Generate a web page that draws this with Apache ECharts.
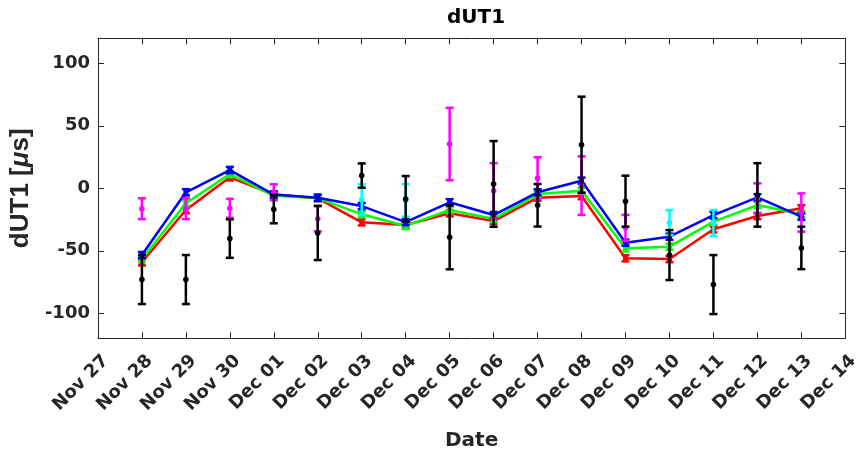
<!DOCTYPE html>
<html>
<head>
<meta charset="utf-8">
<script src="https://cdn.jsdelivr.net/npm/echarts@6/dist/echarts.min.js"></script>
<style>html,body{margin:0;padding:0;background:#fff}#c{width:863px;height:457px}</style>
</head>
<body>
<div id="c"></div>
<script>
// Tick labels (day index 0..17)
const dayLabels = ['Nov 27','Nov 28','Nov 29','Nov 30','Dec 01','Dec 02','Dec 03','Dec 04','Dec 05','Dec 06','Dec 07','Dec 08','Dec 09','Dec 10','Dec 11','Dec 12','Dec 13','Dec 14'];
const yTicks = [-100, -50, 0, 50, 100];

// Line series (day index 1..16)
const lineDays = [1,2,3,4,5,6,7,8,9,10,11,12,13,14,15,16];
const redVals   = [-59.2, -17.4, 8.8, -5.0, -8.0, -27.2, -29.4, -20.0, -26.2, -7.5, -6.2, -56.0, -56.6, -32.8, -22.2, -16.0];
const greenVals = [-56.8, -12.0, 11.4, -6.0, -7.8, -20.8, -30.1, -17.4, -24.6, -4.6, -1.9, -48.0, -46.7, -26.7, -13.4, -20.8];
const blueVals  = [-53.4, -3.2, 14.6, -5.0, -7.5, -14.2, -27.0, -11.2, -21.4, -3.2, 6.1, -43.5, -38.7, -21.4, -7.2, -22.7];
const redErr   = [2.5,2.5,2.5,2.5,2.5,2.5,2.5,2.5,2.5,2.5,2.5,2.5,2.5,2.5,2.5,2.5];
const greenErr = [2.5,2.5,2.5,2.5,2.5,2.5,2.5,2.5,2.5,2.5,2.5,2.5,2.5,2.5,2.5,2.5];
const blueErr  = [2.5,2.5,2.5,2.5,2.5,2.5,2.5,2.5,2.5,2.5,2.5,2.5,2.5,2.5,2.5,2.5];

// Magenta points
const magDays = [1,2,3,4,5,8,9,10,11,12,15,16];
const magVals = [-16.3, -16.3, -16.0, -3.2, -24.4, 35.4, -1.9, 8.0, 2.1, -31.6, -8.0, -19.4];
const magErr  = [8.3, 8.3, 7.6, 6.4, 10.0, 29.0, 22.0, 16.8, 23.4, 10.3, 12.0, 15.3];

// Cyan points
const cyanDays = [6,7,13,14];
const cyanVals = [-9.1, -9.7, -27.4, -27.8];
const cyanErr  = [12.3, 13.0, 10.0, 10.4];

// Black points
const blackDays = [1,2,3,4,5,6,7,8,9,10,11,12,13,14,15,16];
const blackVals = [-73.0, -73.0, -40.2, -16.7, -35.7, 10.2, -8.5, -39.1, 3.5, -13.6, 34.9, -10.3, -53.4, -77.0, -5.3, -47.7];
const blackErr  = [19.6, 19.6, 15.4, 11.3, 21.7, 9.7, 18.3, 25.7, 34.3, 17.0, 38.4, 20.4, 20.0, 23.6, 25.4, 17.0];

const FONT = "'DejaVu Sans', 'Liberation Sans', Arial, sans-serif";
const FONT2 = "'Liberation Sans', Arial, Helvetica, sans-serif";
const AX = '#262626';

function errSeries(days, vals, errs, color, withMarker, z) {
  return {
    type: 'custom',
    z: z,
    data: days.map((d, i) => [d, vals[i], errs[i]]),
    renderItem: function (params, api) {
      const x = api.value(0), v = api.value(1), e = api.value(2);
      const top = api.coord([x, v + e]);
      const bot = api.coord([x, v - e]);
      const mid = api.coord([x, v]);
      const cw = 4;
      const style = { stroke: color, lineWidth: 2.5 };
      const children = [
        { type: 'line', shape: { x1: top[0], y1: top[1], x2: bot[0], y2: bot[1] }, style: style },
        { type: 'line', shape: { x1: top[0] - cw, y1: top[1], x2: top[0] + cw, y2: top[1] }, style: style },
        { type: 'line', shape: { x1: bot[0] - cw, y1: bot[1], x2: bot[0] + cw, y2: bot[1] }, style: style }
      ];
      if (withMarker) {
        children.push({ type: 'circle', shape: { cx: mid[0], cy: mid[1], r: 2.8 }, style: { fill: color } });
      }
      return { type: 'group', children: children };
    }
  };
}

function lineSeries(vals, color, z) {
  return {
    type: 'line',
    z: z,
    data: lineDays.map((d, i) => [d, vals[i]]),
    symbol: 'rect',
    symbolSize: 5,
    showSymbol: true,
    itemStyle: { color: color },
    lineStyle: { color: color, width: 2.5 },
    animation: false
  };
}

const chart = echarts.init(document.getElementById('c'), null, { renderer: 'canvas' });
chart.setOption({
  animation: false,
  backgroundColor: '#fff',
  title: {
    text: 'dUT1',
    left: 471, top: 3, textAlign: 'center',
    textStyle: { fontFamily: FONT, fontWeight: 'bold', fontSize: 20, color: '#000' }
  },
  grid: { left: 96.6, right: 16.7, top: 38.3, bottom: 118.7, containLabel: false },
  xAxis: [{
    type: 'value', min: 0, max: 17, interval: 1,
    name: 'Date', nameLocation: 'middle', nameGap: 92,
    nameTextStyle: { fontFamily: FONT, fontWeight: 'bold', fontSize: 20, color: AX },
    axisLine: { show: true, onZero: false, lineStyle: { color: AX, width: 1 } },
    axisTick: { show: true, inside: true, length: 6, lineStyle: { color: AX } },
    axisLabel: {
      rotate: 45, margin: 12, lineHeight: 22, verticalAlign: 'top',
      showMinLabel: true, showMaxLabel: true, hideOverlap: false,
      fontFamily: FONT, fontWeight: 'bold', fontSize: 18, color: AX,
      formatter: v => dayLabels[Math.round(v)] || ''
    },
    splitLine: { show: false }
  }, {
    type: 'value', min: 0, max: 17, interval: 1, position: 'top',
    axisLine: { show: true, onZero: false, lineStyle: { color: AX, width: 1 } },
    axisTick: { show: true, inside: true, length: 6, lineStyle: { color: AX } },
    axisLabel: { show: false },
    splitLine: { show: false }
  }],
  yAxis: [{
    type: 'value', min: -120, max: 120,
    name: '{a|dUT1 [}{b|μ}{a|s]}', nameLocation: 'middle', nameGap: 57, nameRotate: 90,
    nameTextStyle: {
      rich: {
        a: { fontFamily: FONT2, fontWeight: 'bold', fontSize: 26, color: AX },
        b: { fontFamily: FONT2, fontWeight: 'bold', fontStyle: 'italic', fontSize: 26, color: AX }
      }
    },
    axisLine: { show: true, onZero: false, lineStyle: { color: AX, width: 1 } },
    axisTick: { show: true, inside: true, length: 6, lineStyle: { color: AX }, customValues: yTicks },
    axisLabel: { fontFamily: FONT, fontWeight: 'bold', fontSize: 18, color: AX, margin: 8, customValues: yTicks },
    splitLine: { show: false }
  }, {
    type: 'value', min: -120, max: 120, position: 'right',
    axisLine: { show: true, onZero: false, lineStyle: { color: AX, width: 1 } },
    axisTick: { show: true, inside: true, length: 6, lineStyle: { color: AX }, customValues: yTicks },
    axisLabel: { show: false, customValues: yTicks },
    splitLine: { show: false }
  }],
  series: [
    lineSeries(redVals, '#ff0000', 2),
    errSeries(lineDays, redVals, redErr, '#ff0000', false, 2),
    lineSeries(greenVals, '#00ff00', 3),
    errSeries(lineDays, greenVals, greenErr, '#00ff00', false, 3),
    lineSeries(blueVals, '#0000ff', 4),
    errSeries(lineDays, blueVals, blueErr, '#0000ff', false, 4),
    errSeries(magDays, magVals, magErr, '#ff00ff', true, 5),
    errSeries(cyanDays, cyanVals, cyanErr, '#00ffff', true, 6),
    errSeries(blackDays, blackVals, blackErr, '#000000', true, 7)
  ]
});
</script>
</body>
</html>
